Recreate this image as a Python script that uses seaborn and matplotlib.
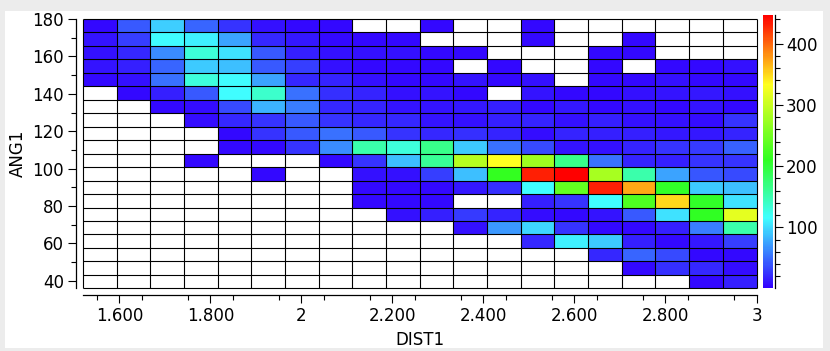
import numpy as np
import seaborn as sns
import matplotlib.pyplot as plt
from matplotlib.colors import LinearSegmentedColormap
from matplotlib.patches import Rectangle

n = np.nan

# counts per cell, top row (ANG1 near 180) first
row01 = [5, 42, 95, 48, 25, 8, 6, 6, n, n, 5, n, n, 5, n, n, n, n, n, n]
row02 = [10, 30, 115, 110, 75, 20, 12, 6, 6, 6, n, n, n, 5, n, n, 5, n, n, n]
row03 = [8, 20, 65, 132, 103, 42, 15, 8, 8, 8, 6, 6, n, n, n, 5, 6, n, n, n]
row04 = [10, 15, 48, 93, 87, 42, 30, 8, 6, 6, 5, n, 5, n, n, 5, n, 5, 6, 8]
row05 = [6, 8, 53, 130, 115, 75, 20, 18, 8, 6, 5, 10, 6, 8, n, 5, 6, 8, 6, 6]
row06 = [n, 5, 15, 42, 115, 137, 53, 22, 18, 8, 10, 5, n, 10, 6, 5, 8, 10, 12, 8]
row07 = [n, n, 5, 7, 35, 82, 58, 20, 18, 10, 10, 12, 15, 5, 12, 5, 8, 6, 10, 5]
row08 = [n, n, n, 7, 20, 25, 42, 25, 20, 20, 10, 8, 15, 18, 8, 15, 8, 8, 7, 25]
row09 = [n, n, n, n, 5, 25, 42, 53, 42, 25, 20, 22, 18, 7, 18, 15, 15, 12, 12, 18]
row10 = [n, n, n, n, 5, 5, 25, 65, 152, 130, 165, 93, 53, 35, 10, 8, 18, 25, 28, 45]
row11 = [n, n, n, 5, n, n, n, 5, 25, 88, 160, 290, 333, 275, 165, 53, 18, 15, 25, 25]
row12 = [n, n, n, n, n, 5, n, n, 8, 8, 30, 88, 212, 432, 447, 280, 152, 75, 40, 35]
row13 = [n, n, n, n, n, n, n, n, 6, 6, 5, 12, 22, 115, 240, 432, 372, 207, 93, 88]
row14 = [n, n, n, n, n, n, n, n, 6, 6, 6, n, n, 15, 25, 115, 228, 350, 207, 103]
row15 = [n, n, n, n, n, n, n, n, n, 8, 15, 28, 18, 7, 6, 10, 42, 103, 210, 318]
row16 = [n, n, n, n, n, n, n, n, n, n, n, 8, 70, 98, 25, 5, 6, 15, 58, 152]
row17 = [n, n, n, n, n, n, n, n, n, n, n, n, n, 20, 110, 93, 15, 5, 12, 30]
row18 = [n, n, n, n, n, n, n, n, n, n, n, n, n, n, n, 20, 48, 35, 5, 6]
row19 = [n, n, n, n, n, n, n, n, n, n, n, n, n, n, n, n, 5, 22, 20, 7]
row20 = [n, n, n, n, n, n, n, n, n, n, n, n, n, n, n, n, n, n, 6, 15]
counts = np.array([row01, row02, row03, row04, row05, row06, row07, row08, row09, row10,
                   row11, row12, row13, row14, row15, row16, row17, row18, row19, row20])

dist_ticks = [1.6, 1.8, 2.0, 2.2, 2.4, 2.6, 2.8, 3.0]
dist_labels = ['1.600', '1.800', '2', '2.200', '2.400', '2.600', '2.800', '3']
ang_ticks = [180, 160, 140, 120, 100, 80, 60, 40]
bar_ticks = [100, 200, 300, 400]

dist_min, dist_max = 1.52, 3.0
ang_min, ang_max = 36, 180
val_min, val_max = 1, 447

W, H = 830, 351
plt.rcParams['font.family'] = 'DejaVu Sans'

# blue - cyan - green - yellow - red
cmap = LinearSegmentedColormap.from_list('jet_like', [
    (0.0, '#3300ff'), (0.257, '#40ffff'), (0.47, '#30ff20'),
    (0.745, '#ffff20'), (1.0, '#ff0000')])


def box(x0, y0, x1, y1):
    return [x0 / W, 1 - y1 / H, (x1 - x0) / W, (y1 - y0) / H]


fig = plt.figure(figsize=(W / 100, H / 100), dpi=100, facecolor='#ececec')
fig.add_artist(Rectangle((5 / W, 1 - 348 / H), 818 / W, (348 - 11) / H, zorder=-1,
                         transform=fig.transFigure, facecolor='white', edgecolor='none'))

ax = fig.add_axes(box(83, 19, 756.5, 288.3))
cax = fig.add_axes(box(763, 15, 773, 288))

sns.heatmap(counts, ax=ax, cbar_ax=cax, cmap=cmap, vmin=val_min, vmax=val_max,
            linewidths=0.4, linecolor='white')

# black cell grid, also over the empty cells
nrows, ncols = counts.shape
ax.hlines(range(nrows + 1), 0, ncols, color='black', lw=0.8, clip_on=False)
ax.vlines(range(ncols + 1), 0, nrows, color='black', lw=0.8, clip_on=False)


def x_pos(v):
    return (np.asarray(v) - dist_min) / (dist_max - dist_min) * ncols


def y_pos(v):
    return (ang_max - np.asarray(v)) / (ang_max - ang_min) * nrows


ax.set_xticks(x_pos(dist_ticks), dist_labels, rotation=0)
ax.set_xticks(x_pos(np.arange(1.55, 3.0, 0.1)), minor=True)
ax.set_yticks(y_pos(ang_ticks), [str(a) for a in ang_ticks], rotation=0)
ax.set_yticks(y_pos(np.arange(170, 30, -20)), minor=True)

for side in ['left', 'bottom']:
    ax.spines[side].set_visible(True)
    ax.spines[side].set_position(('outward', 5))
    ax.spines[side].set_linewidth(0.9)
ax.tick_params(which='major', length=5.8, width=0.8, labelsize=12, pad=3)
ax.tick_params(which='minor', length=3.8, width=0.8)
ax.set_xlabel('DIST1', fontsize=12, labelpad=4)
ax.set_ylabel('ANG1', fontsize=12, labelpad=4)

cbar = ax.collections[0].colorbar
cbar.outline.set_visible(False)
cbar.set_ticks(bar_ticks)
cbar.set_ticks(np.arange(20, val_max, 20), minor=True)
cax.spines['right'].set_visible(True)
cax.spines['right'].set_position(('outward', 1.5))
cax.spines['right'].set_linewidth(0.9)
cax.tick_params(which='major', length=5.8, width=0.8, labelsize=12, pad=2)
cax.tick_params(which='minor', length=3.8, width=0.8)

fig.savefig('out.png', dpi=100, facecolor=fig.get_facecolor())
